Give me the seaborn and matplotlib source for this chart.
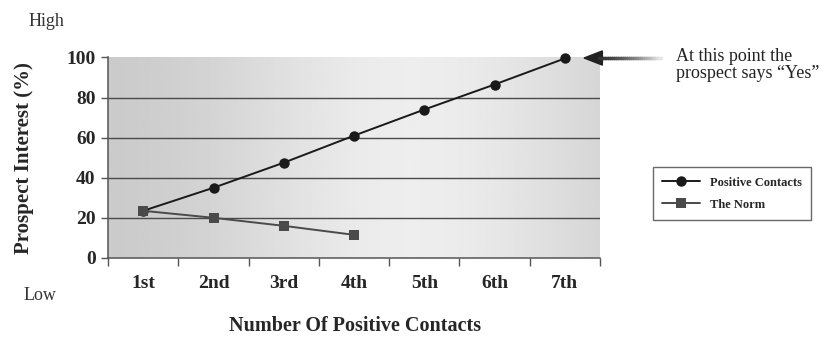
import matplotlib
matplotlib.use("Agg")
import matplotlib.pyplot as plt
import seaborn as sns
import numpy as np
import pandas as pd

# chart data
contacts = ["1st", "2nd", "3rd", "4th", "5th", "6th", "7th"]
positive = [23.5, 35, 47.5, 61, 74, 86.5, 99.5]
norm = [23.5, 20, 16, 11.5]
y_ticks = [0, 20, 40, 60, 80, 100]

sns.set_theme(style="white")
plt.rcParams["font.family"] = ["Liberation Serif", "DejaVu Serif"]

rows = []
for i, v in enumerate(positive):
    rows.append(dict(pos=i, value=v, series="Positive Contacts"))
for i, v in enumerate(norm):
    rows.append(dict(pos=i, value=v, series="The Norm"))
df = pd.DataFrame(rows)

fig = plt.figure(figsize=(8.32, 3.38), dpi=100)
ax = fig.add_axes([0.130, 0.237, 0.591, 0.593])

# gray gradient background, darker at the edges
xs = np.linspace(0, 1, 300)
shade = 0.78 + 0.15 * np.exp(-((xs - 0.62) / 0.40) ** 2)
grad = np.tile(shade, (2, 1))
ax.imshow(grad, extent=[0, 1, 0, 1], transform=ax.transAxes, cmap="gray",
          vmin=0, vmax=1, aspect="auto", zorder=0)

for g in y_ticks[1:-1]:
    ax.axhline(g, color="#4a4a4a", lw=1.0, zorder=1)

sns.lineplot(data=df, x="pos", y="value", hue="series", style="series",
             palette={"Positive Contacts": "#1a1a1a", "The Norm": "#4a4a4a"},
             markers={"Positive Contacts": "o", "The Norm": "s"},
             dashes=False, markersize=7.5, linewidth=1.4, markeredgewidth=0,
             ax=ax, zorder=3, clip_on=False)

ax.set_xlim(-0.5, 6.5)
ax.set_ylim(0, 100)
ax.set_yticks(y_ticks)
ax.set_yticklabels([str(t) for t in y_ticks], fontsize=14, fontweight="bold")
ax.set_xticks(np.arange(-0.5, 7, 1))
ax.set_xticklabels([])
ax.set_xticks(np.arange(len(contacts)), minor=True)
ax.set_xticklabels(contacts, minor=True, fontsize=14, fontweight="bold")
ax.tick_params(axis="x", which="major", direction="out", length=6, width=1, color="#555555", bottom=True)
ax.tick_params(axis="x", which="minor", length=0, pad=12)
ax.tick_params(axis="y", direction="out", length=5, width=1, color="#555555", left=True, pad=4)

for s in ["top", "right"]:
    ax.spines[s].set_visible(False)
for s in ["left", "bottom"]:
    ax.spines[s].set_color("#555555")
    ax.spines[s].set_linewidth(1.1)

ax.set_xlabel("")
ax.set_ylabel("Prospect Interest (%)", fontsize=15, fontweight="bold")
ax.yaxis.set_label_coords(-0.150, 0.5)
fig.text(0.427, 0.035, "Number Of Positive Contacts", fontsize=14.5,
         fontweight="bold", ha="center", va="center")
fig.text(0.034, 0.935, "High", fontsize=13, ha="left", va="center", color="#333333")
fig.text(0.028, 0.125, "Low", fontsize=13, ha="left", va="center", color="#333333")

leg = ax.legend(loc="center left", bbox_to_anchor=(1.095, 0.32), frameon=True,
                fancybox=False, edgecolor="#444444",
                prop={"weight": "bold", "size": 9}, handlelength=3.0,
                borderpad=0.75, labelspacing=0.8)
leg.get_frame().set_linewidth(1.0)

# arrow pointing at the last point, tail fading out
ay = 1 - 58 / 338
tail = np.linspace(0.72, 0.795, 30)
for k in range(len(tail) - 1):
    c = 0.2 + 0.7 * (k / (len(tail) - 2)) ** 1.5
    fig.add_artist(plt.Line2D([tail[k], tail[k + 1]], [ay, ay], color=str(c), lw=2.5,
                              transform=fig.transFigure))
fig.add_artist(plt.Polygon([[0.702, ay], [0.724, ay + 0.021], [0.724, ay - 0.021]],
                           closed=True, color="#222222", transform=fig.transFigure))
fig.text(0.812, 0.808, "At this point the\nprospect says \u201cYes\u201d",
         fontsize=13, ha="left", va="center", color="#222222", linespacing=1.0)

fig.savefig("out.png", dpi=100)
